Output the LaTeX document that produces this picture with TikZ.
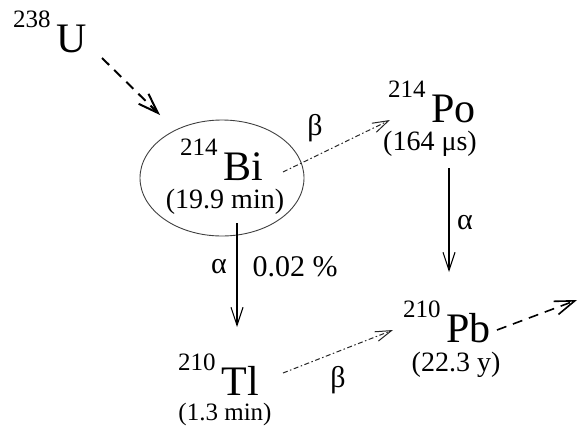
\documentclass[tikz,border=0pt]{standalone}
\usepackage{fontspec}
\setmainfont{Liberation Serif}
\newfontfamily\tnr{Liberation Serif}
\usetikzlibrary{arrows.meta,shapes.geometric}
\newcommand{\nuc}[2]{\tnr\raisebox{25pt}{\fontsize{25}{25}\selectfont #1}\hspace{6pt}{\fontsize{42}{42}\selectfont #2}}
\newcommand{\hl}[1]{{\tnr\fontsize{28}{28}\selectfont #1}}
\begin{document}
\begin{tikzpicture}[x=1pt,y=-1pt,
  every node/.style={inner sep=0pt,outer sep=0pt},
  lab/.style={font=\tnr\fontsize{30}{30}\selectfont},
  decay/.style={line width=1.1pt,-{Straight Barb[length=18pt,width=12pt]}},
  betaarrow/.style={draw=black!85,line width=1pt,dash pattern=on 5pt off 2.5pt on 1.5pt off 2.5pt,-{Straight Barb[length=16pt,width=10pt]}},
  chain/.style={line width=2pt,dash pattern=on 10pt off 7pt,-{Straight Barb[length=20pt,width=14pt]}}]
\useasboundingbox (0,0) rectangle (578,426);
\node[draw=black!75,ellipse,minimum width=164pt,minimum height=116pt,line width=0.9pt] (bibox) at (222,178) {};
\node[anchor=base west] (u) at (13,52) {\nuc{238}{U}};
\node[anchor=base west] (bi) at (180,180) {\nuc{214}{Bi}};
\node[anchor=base] (bihl) at (225,208) {\hl{(19.9 min)}};
\node[anchor=base west] (po) at (388,122) {\nuc{214}{Po}};
\node[anchor=base] (pohl) at (430,150) {\hl{(164 μs)}};
\node[anchor=base west] (pb) at (403,342) {\nuc{210}{Pb}};
\node[anchor=base] (pbhl) at (456,371) {\hl{(22.3 y)}};
\node[anchor=base west] (tl) at (178,395) {\nuc{210}{Tl}};
\node[anchor=base] (tlhl) at (225,420) {{\tnr\fontsize{25}{25}\selectfont (1.3 min)}};
\coordinate (pbend) at (577,300);
\draw[chain] ([shift={(89,6)}]u.base west) -- ([shift={(-62,-63)}]bibox.center);
\draw[betaarrow] ([shift={(103,-8)}]bi.base west) -- ([shift={(2,-2)}]po.base west);
\draw[decay] ([shift={(57,43)}]bi.base west) -- ([shift={(59,-68)}]tl.base west);
\draw[decay] ([shift={(61,46)}]po.base west) -- ([shift={(46,-70)}]pb.base west);
\draw[betaarrow] ([shift={(105,-22)}]tl.base west) -- ([shift={(-10,-12)}]pb.base west);
\draw[chain,line width=1.6pt] ([shift={(94,-12)}]pb.base west) -- (pbend);
\node[lab] (beta1) at (315,128) {β};
\node[lab] (alpha1) at (219,267) {α};
\node[lab] (frac) at (295,267) {0.02 \%};
\node[lab] (alpha2) at (465,223) {α};
\node[lab] (beta2) at (338,380) {β};
\end{tikzpicture}
\end{document}
